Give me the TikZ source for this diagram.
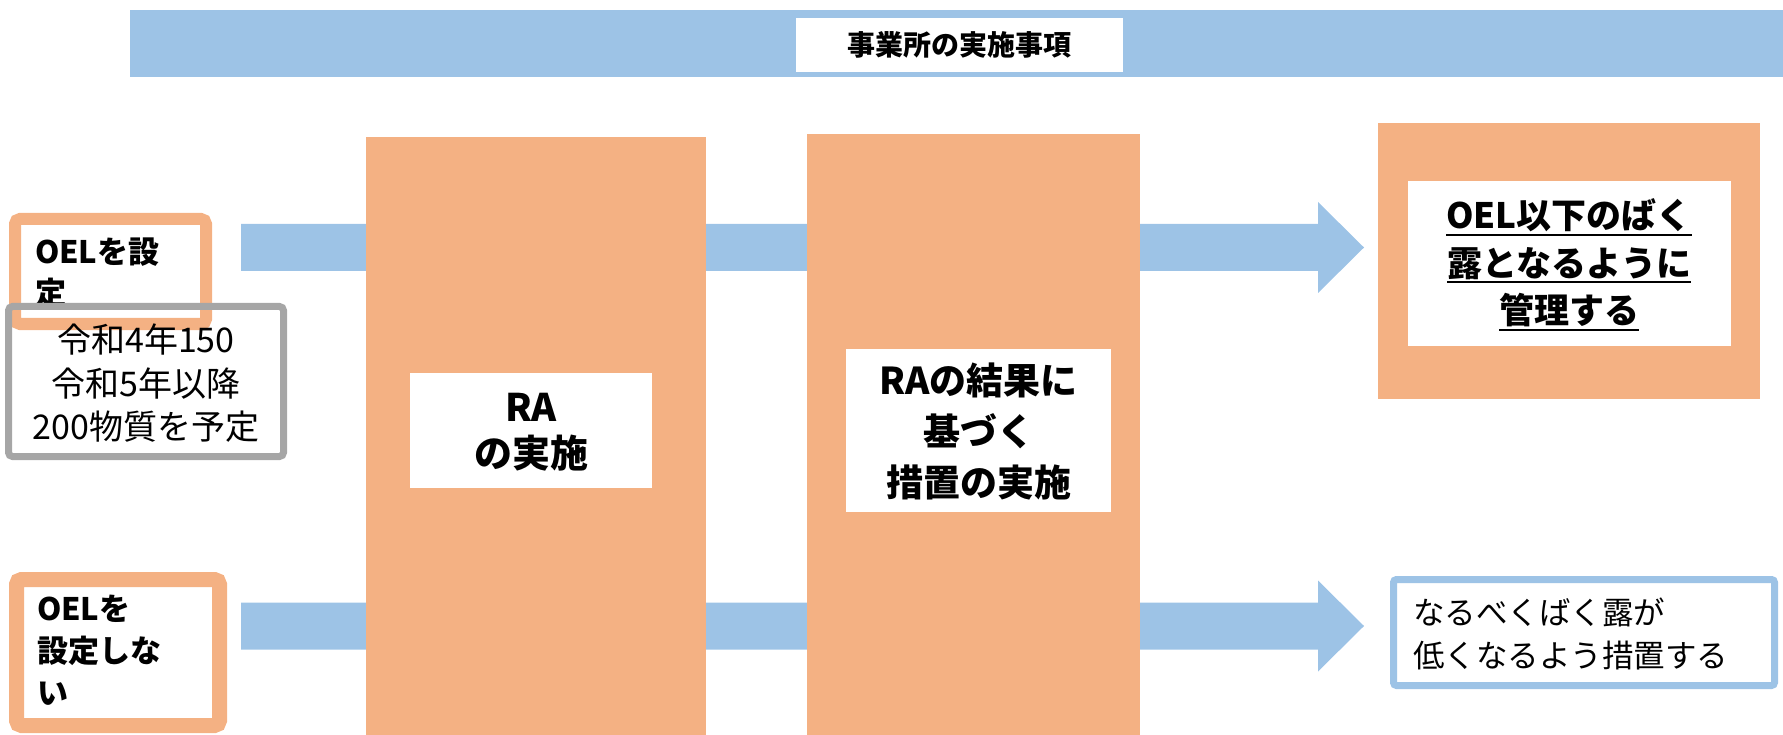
\documentclass[tikz,border=0pt]{standalone}
\usepackage{fontspec}
\usetikzlibrary{calc}
\setmainfont{Noto Sans CJK JP}
\definecolor{oblue}{HTML}{9DC3E6}
\definecolor{oorange}{HTML}{F4B183}
\definecolor{ogray}{HTML}{A6A6A6}
\newsavebox\ulbox
\newcommand\myul[1]{\sbox\ulbox{#1}\rlap{\rule[-7pt]{\wd\ulbox}{2pt}}\usebox\ulbox}
\begin{document}
\begin{tikzpicture}[x=1pt,y=-1pt,
  block/.style={fill=#1, draw=none, inner sep=0pt, outer sep=0pt, anchor=north west},
  framebox/.style={draw=#1, fill=white, inner sep=0pt, outer sep=0pt, rounded corners=4pt},
  txt/.style={inner sep=0pt, outer sep=0pt, text=black},
  bigarrow/.style={fill=oblue, draw=none}]
\useasboundingbox (0,0) rectangle (1783,735);

% top banner
\node[block=oblue, minimum width=1653pt, minimum height=67pt] (banner) at (130,10) {};
\node[fill=white, inner sep=0pt, minimum width=327pt, minimum height=54pt,
      font=\fontsize{28}{34}\selectfont\bfseries] (bannerlabel) at (959.5,45) {事業所の実施事項};

% block arrows
\coordinate (a1s) at (241,247.5);
\coordinate (a1e) at (1364,247.5);
\coordinate (a2s) at (241,626);
\coordinate (a2e) at (1364,626);
\fill[bigarrow] ($(a1s)+(0,-23.5)$) -- ($(a1e)+(-46,-23.5)$) -- ($(a1e)+(-46,-45.5)$) -- (a1e)
   -- ($(a1e)+(-46,45.5)$) -- ($(a1e)+(-46,23.5)$) -- ($(a1s)+(0,23.5)$) -- cycle;
\fill[bigarrow] ($(a2s)+(0,-23.5)$) -- ($(a2e)+(-46,-23.5)$) -- ($(a2e)+(-46,-45.5)$) -- (a2e)
   -- ($(a2e)+(-46,45.5)$) -- ($(a2e)+(-46,23.5)$) -- ($(a2s)+(0,23.5)$) -- cycle;

% middle columns
\node[block=oorange, minimum width=340pt, minimum height=598pt] (ra) at (366,137.5) {};
\node[fill=white, inner sep=0pt, minimum width=242pt, minimum height=115pt] (ralabel) at (531,430.5) {};
\node[txt, align=center, font=\fontsize{38}{46}\selectfont\bfseries] (ratext) at (531,432) {RA\\の実施};

\node[block=oorange, minimum width=333pt, minimum height=601pt] (measure) at (807,134.5) {};
\node[fill=white, inner sep=0pt, minimum width=265pt, minimum height=163pt] (measurelabel) at (978.5,430.5) {};
\node[txt, align=center, font=\fontsize{37}{51}\selectfont\bfseries] (measuretext) at (978.5,431) {RAの結果に\\基づく\\措置の実施};

% right top result
\node[block=oorange, minimum width=382pt, minimum height=276pt] (res1) at (1378,123) {};
\node[fill=white, inner sep=0pt, minimum width=323pt, minimum height=165pt] (res1label) at (1569.5,263.5) {};
\node[txt, align=center, font=\fontsize{35}{47.5}\selectfont\bfseries] (res1text) at (1569,265)
  {\myul{OEL以下のばく}\\\myul{露となるように}\\\myul{管理する}};

% right bottom result
\node[framebox=oblue, line width=7pt, rounded corners=3pt, minimum width=381pt, minimum height=106pt] (res2) at (1584,632.5) {};
\node[txt, align=left, anchor=west, font=\fontsize{31.5}{43}\selectfont] (res2text) at (1413,633.5)
  {なるべくばく露が\\低くなるよう措置する};

% left top: OEL set
\node[framebox=oorange, line width=12pt, rounded corners=5pt, minimum width=191pt, minimum height=105pt] (oelset) at (110.5,271.5) {};
\node[txt, align=left, anchor=west, font=\fontsize{31}{41}\selectfont\bfseries] (oelsettext) at (35,272.5) {OELを設\\定};

% gray note (border over the orange box)
\node[draw=ogray, line width=7pt, rounded corners=4pt, inner sep=0pt, minimum width=275pt, minimum height=150pt] (note) at (146,381.5) {};
\node[txt, align=center, font=\fontsize{34}{43.5}\selectfont] (notetext) at (146,383.5)
  {令和4年150\\令和5年以降\\200物質を予定};

% left bottom: OEL not set
\node[framebox=oorange, line width=15pt, rounded corners=5pt, minimum width=203pt, minimum height=146pt] (oelno) at (118,652.5) {};
\node[txt, align=left, anchor=west, font=\fontsize{31}{42}\selectfont\bfseries] (oelnotext) at (37,650.5) {OELを\\設定しな\\い};
\end{tikzpicture}
\end{document}
